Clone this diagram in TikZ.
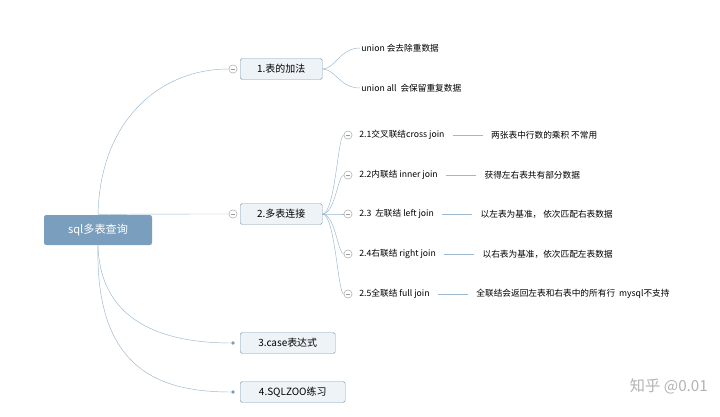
\documentclass[tikz,border=0pt]{standalone}
\usepackage{fontspec}
\setmainfont{Noto Sans CJK SC}
\usetikzlibrary{positioning}
\definecolor{rootblue}{HTML}{7A9FBE}
\definecolor{boxfill}{HTML}{EEF3F7}
\definecolor{boxline}{HTML}{7E9DB5}
\definecolor{branch}{HTML}{9DB7CC}
\begin{document}
\begin{tikzpicture}[x=0.03cm,y=-0.03cm,
  rootbox/.style={fill=rootblue,rounded corners=2pt,text=white,minimum width=108*0.03cm,minimum height=30*0.03cm,font=\fontsize{9.5}{11}\selectfont},
  topicbox/.style={draw=boxline,fill=boxfill,rounded corners=1.5pt,minimum height=21*0.03cm,anchor=west,inner xsep=5pt,font=\fontsize{8.5}{10}\selectfont},
  leaf/.style={anchor=west,inner sep=1pt,font=\fontsize{7.4}{9}\selectfont},
  fold/.style={draw=gray!70,fill=white,circle,inner sep=0pt,minimum size=7pt,
    path picture={\draw[gray!80] ([xshift=-2pt]path picture bounding box.center) -- ([xshift=2pt]path picture bounding box.center);}},
  dot/.style={fill=boxline,circle,inner sep=0pt,minimum size=3pt},
  wire/.style={draw=branch,thin}]
\useasboundingbox (0,0) rectangle (720,417);
% root and main topics
\node[rootbox] (root) at (98,230) {sql多表查询};
\node[topicbox,minimum width=82*0.03cm] (add) at (240,69) {1.表的加法};
\node[topicbox,minimum width=82*0.03cm] (multi) at (240,214) {2.多表连接};
\node[topicbox,minimum width=95*0.03cm] (case) at (240,343) {3.case表达式};
\node[topicbox,minimum width=105*0.03cm] (zoo) at (240,392) {4.SQLZOO练习};
\node[fold] (fa) at (233,69) {};
\node[fold] (fm) at (233,214) {};
\node[dot] (fc) at (233,343) {};
\node[dot] (fz) at (233,392) {};
\path[wire] (root.north) .. controls (100,120) and (160,69) .. (fa.west);
\path[wire] (root.north) .. controls (120,214) and (180,214) .. (fm.west);
\path[wire] (root.south) .. controls (100,320) and (160,343) .. (fc.west);
\path[wire] (root.south) .. controls (95,370) and (160,392) .. (fz.west);
% table addition
\node[leaf] (u1) at (360,48) {union 会去除重数据};
\node[leaf] (u2) at (360,88) {union all\ \ 会保留重复数据};
\path[wire] (add.east) .. controls (335,69) and (340,48) .. (u1.west);
\path[wire] (add.east) .. controls (335,69) and (340,88) .. (u2.west);
% joins
\foreach \i/\y/\t/\d/\len in {
  1/135/2.1交叉联结cross join/两张表中行数的乘积 不常用/44,
  2/175/2.2内联结 inner join/获得左右表共有部分数据/44,
  3/214/2.3 \ 左联结 left join/以左表为基准，\ 依次匹配右表数据/44,
  4/254/2.4右联结 right join/以右表为基准，依次匹配左表数据/44,
  5/294/2.5全联结 full join/全联结会返回左表和右表中的所有行\ \ mysql不支持/44}{
  \node[fold] (c\i) at (348,\y) {};
  \node[leaf] (j\i) at (358,\y) {\t};
  \node[leaf,right=\len*0.03cm of j\i] (n\i) {\d};
  \path[wire] ([xshift=7*0.03cm]j\i.east) -- ([xshift=-7*0.03cm]n\i.west);
  \path[wire] (multi.east) .. controls (335,214) and (338,\y) .. (c\i.west);
}
% watermark
\node[text=gray!60,anchor=east,font=\fontsize{13}{15}\selectfont] (mark) at (712,386) {知乎 @0.01};
\end{tikzpicture}
\end{document}
